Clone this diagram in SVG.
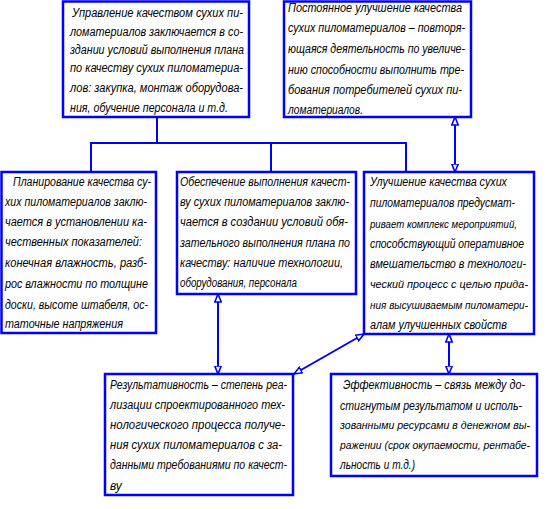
<svg xmlns="http://www.w3.org/2000/svg" width="548" height="509" viewBox="0 0 548 509">
<style>
.box{fill:#fff;stroke:#0000ff;stroke-width:2.5}
.c{fill:none;stroke:#0000ff;stroke-width:2}
text{font-family:"Liberation Sans",Arial,sans-serif;font-style:italic;font-size:12px;fill:#000}
text.s{font-size:11px}
</style>
<defs>
<marker id="ah" viewBox="0 0 9 8" refX="8.5" refY="4" markerWidth="9" markerHeight="8" markerUnits="userSpaceOnUse" orient="auto-start-reverse">
<path d="M0.5,0.8 L8.5,4 L0.5,7.2 z" fill="#fff" stroke="#0000ff" stroke-width="1.6"/>
</marker>
</defs>
<g id="connectors">
<path class="c" d="M157,117 V143 M91,172 V143 H406 V172 M271,143 V172"/>
<line class="c" x1="455" y1="117" x2="455" y2="172" marker-start="url(#ah)" marker-end="url(#ah)"/>
<line class="c" x1="218" y1="294" x2="218" y2="374" marker-start="url(#ah)" marker-end="url(#ah)"/>
<line class="c" x1="364" y1="334" x2="294" y2="374" marker-start="url(#ah)" marker-end="url(#ah)"/>
<line class="c" x1="449" y1="334" x2="449" y2="374" marker-start="url(#ah)" marker-end="url(#ah)"/>
</g>
<g id="n1">
<rect class="box" x="63" y="1.5" width="186" height="115.5"/>
<text x="72" y="17" textLength="171" lengthAdjust="spacingAndGlyphs">Управление качеством сухих пи-</text>
<text x="70" y="36" textLength="173" lengthAdjust="spacingAndGlyphs">ломатериалов заключается в со-</text>
<text x="70" y="54" textLength="174" lengthAdjust="spacingAndGlyphs">здании условий выполнения плана</text>
<text x="70" y="72" textLength="173" lengthAdjust="spacingAndGlyphs">по качеству сухих пиломатериа-</text>
<text x="70" y="92" textLength="173" lengthAdjust="spacingAndGlyphs">лов: закупка, монтаж оборудова-</text>
<text x="70" y="112" textLength="158" lengthAdjust="spacingAndGlyphs">ния, обучение персонала и т.д.</text>
</g>
<g id="n2">
<rect class="box" x="284" y="1.5" width="187" height="115.5"/>
<text x="288" y="12" textLength="174" lengthAdjust="spacingAndGlyphs">Постоянное улучшение качества</text>
<text x="288" y="32" textLength="177" lengthAdjust="spacingAndGlyphs">сухих пиломатериалов – повторя-</text>
<text x="288" y="53" textLength="177" lengthAdjust="spacingAndGlyphs">ющаяся деятельность по увеличе-</text>
<text x="288" y="74" textLength="176" lengthAdjust="spacingAndGlyphs">нию способности выполнить тре-</text>
<text x="288" y="94" textLength="174" lengthAdjust="spacingAndGlyphs">бования потребителей сухих пи-</text>
<text x="288" y="114" textLength="75" lengthAdjust="spacingAndGlyphs">ломатериалов.</text>
</g>
<g id="n3">
<rect class="box" x="1.5" y="172" width="154.5" height="161"/>
<text x="13" y="186" textLength="138" lengthAdjust="spacingAndGlyphs">Планирование качества су-</text>
<text x="5" y="206" textLength="142" lengthAdjust="spacingAndGlyphs">хих пиломатериалов заклю-</text>
<text x="5" y="226" textLength="142" lengthAdjust="spacingAndGlyphs">чается в установлении ка-</text>
<text x="5" y="246" textLength="137" lengthAdjust="spacingAndGlyphs">чественных показателей:</text>
<text x="5" y="267" textLength="142" lengthAdjust="spacingAndGlyphs">конечная влажность, разб-</text>
<text x="5" y="288" textLength="143" lengthAdjust="spacingAndGlyphs">рос влажности по толщине</text>
<text x="5" y="309" textLength="143" lengthAdjust="spacingAndGlyphs">доски, высоте штабеля, ос-</text>
<text x="5" y="328" textLength="118" lengthAdjust="spacingAndGlyphs">таточные напряжения</text>
</g>
<g id="n4">
<rect class="box" x="177" y="172" width="179" height="122"/>
<text x="180" y="186" textLength="170" lengthAdjust="spacingAndGlyphs">Обеспечение выполнения качест-</text>
<text x="180" y="206" textLength="169" lengthAdjust="spacingAndGlyphs">ву сухих пиломатериалов заклю-</text>
<text x="180" y="226" textLength="168" lengthAdjust="spacingAndGlyphs">чается в создании условий обя-</text>
<text x="180" y="247" textLength="170" lengthAdjust="spacingAndGlyphs">зательного выполнения плана по</text>
<text x="180" y="267" textLength="163" lengthAdjust="spacingAndGlyphs">качеству: наличие технологии,</text>
<text x="180" y="287" textLength="117" lengthAdjust="spacingAndGlyphs">оборудования, персонала</text>
</g>
<g id="n5">
<rect class="box" x="364" y="172" width="170" height="162"/>
<text x="370" y="186" textLength="137" lengthAdjust="spacingAndGlyphs">Улучшение качества сухих</text>
<text x="370" y="207" textLength="145" lengthAdjust="spacingAndGlyphs">пиломатериалов предусмат-</text>
<text class="s" x="370" y="228" textLength="147" lengthAdjust="spacingAndGlyphs">ривает комплекс мероприятий,</text>
<text x="370" y="248" textLength="154" lengthAdjust="spacingAndGlyphs">способствующий оперативное</text>
<text x="370" y="268" textLength="156" lengthAdjust="spacingAndGlyphs">вмешательство в технологи-</text>
<text class="s" x="370" y="288" textLength="158" lengthAdjust="spacingAndGlyphs">ческий процесс с целью прида-</text>
<text class="s" x="370" y="309" textLength="158" lengthAdjust="spacingAndGlyphs">ния высушиваемым пиломатери-</text>
<text x="370" y="329" textLength="137" lengthAdjust="spacingAndGlyphs">алам улучшенных свойств</text>
</g>
<g id="n6">
<rect class="box" x="105" y="374" width="188" height="121"/>
<text x="110" y="389" textLength="177" lengthAdjust="spacingAndGlyphs">Результативность – степень реа-</text>
<text x="110" y="409" textLength="175" lengthAdjust="spacingAndGlyphs">лизации спроектированного тех-</text>
<text x="110" y="429" textLength="175" lengthAdjust="spacingAndGlyphs">нологического процесса получе-</text>
<text x="110" y="449" textLength="172" lengthAdjust="spacingAndGlyphs">ния сухих пиломатериалов с за-</text>
<text x="110" y="469" textLength="177" lengthAdjust="spacingAndGlyphs">данными требованиями по качест-</text>
<text x="110" y="490">ву</text>
</g>
<g id="n7">
<rect class="box" x="331" y="374" width="206" height="102"/>
<text x="343" y="389" textLength="182" lengthAdjust="spacingAndGlyphs">Эффективность – связь между до-</text>
<text x="340" y="410" textLength="182" lengthAdjust="spacingAndGlyphs">стигнутым результатом и исполь-</text>
<text class="s" x="340" y="429" textLength="190" lengthAdjust="spacingAndGlyphs">зованными ресурсами в денежном вы-</text>
<text class="s" x="340" y="449" textLength="190" lengthAdjust="spacingAndGlyphs">ражении (срок окупаемости, рентабе-</text>
<text x="340" y="469" textLength="75" lengthAdjust="spacingAndGlyphs">льность и т.д.)</text>
</g>
</svg>
